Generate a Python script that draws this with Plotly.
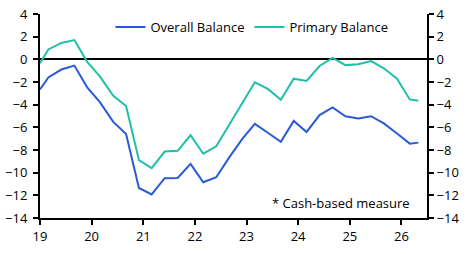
import plotly.graph_objects as go

dates = ["2019-01", "2019-03", "2019-06", "2019-09", "2019-12",
         "2020-03", "2020-06", "2020-09", "2020-12",
         "2021-03", "2021-06", "2021-09", "2021-12",
         "2022-03", "2022-06", "2022-09", "2022-12",
         "2023-03", "2023-06", "2023-09", "2023-12",
         "2024-03", "2024-06", "2024-09", "2024-12",
         "2025-03", "2025-06", "2025-09", "2025-12",
         "2026-03", "2026-05"]

overall = [-2.65, -1.6, -0.9, -0.55, -2.47,
           -3.8, -5.5, -6.6, -11.35,
           -11.92, -10.49, -10.47, -9.23,
           -10.85, -10.4, -8.65, -7.05,
           -5.69, -6.48, -7.28, -5.43,
           -6.41, -4.92, -4.24, -5.02,
           -5.22, -5.02, -5.67, -6.55,
           -7.44, -7.35]

primary = [-0.35, 0.87, 1.45, 1.7, -0.22,
           -1.53, -3.2, -4.12, -8.9,
           -9.6, -8.14, -8.07, -6.7,
           -8.33, -7.67, -5.75, -3.8,
           -2.03, -2.61, -3.57, -1.71,
           -1.9, -0.59, 0.12, -0.51,
           -0.43, -0.16, -0.81, -1.71,
           -3.54, -3.65]

y_ticks = [4, 2, 0, -2, -4, -6, -8, -10, -12, -14]
x_range = ["2019-01-01", "2026-07-01"]

FONT = "Open Sans"
fig = go.Figure()
fig.add_trace(go.Scatter(x=dates, y=overall, mode="lines", name="Overall Balance",
                         line=dict(color="#2a5bd7", width=2)))
fig.add_trace(go.Scatter(x=dates, y=primary, mode="lines", name="Primary Balance",
                         line=dict(color="#1fbfa8", width=2)))
fig.add_trace(go.Scatter(x=dates, y=primary, mode="lines", yaxis="y2",
                         showlegend=False, hoverinfo="skip",
                         line=dict(color="rgba(0,0,0,0)", width=0)))

axis_common = dict(range=[-14, 4], tickvals=y_ticks, showgrid=False,
                   showline=True, linecolor="black", linewidth=2,
                   ticks="outside", ticklen=5, tickwidth=1.5, tickcolor="black",
                   automargin=False,
                   tickfont=dict(family=FONT, size=13, color="black"))

fig.update_layout(
    width=471, height=254,
    margin=dict(l=39.5, r=44, t=11.5, b=36),
    plot_bgcolor="white", paper_bgcolor="white",
    font=dict(family=FONT, size=13, color="black"),
    xaxis=dict(type="date", range=x_range, tickformat="%y", dtick="M12",
               tick0="2019-01-01", showgrid=False, showline=True,
               linecolor="black", linewidth=2, ticks="outside", ticklen=5,
               tickwidth=1.5, tickcolor="black", automargin=False,
               tickfont=dict(family=FONT, size=13, color="black")),
    yaxis=dict(zeroline=True, zerolinecolor="black", zerolinewidth=2,
               ticklabelstandoff=3, **axis_common),
    yaxis2=dict(overlaying="y", side="right", zeroline=False, **axis_common),
    legend=dict(orientation="h", x=0.182, y=1.01, xanchor="left", yanchor="top",
                bgcolor="rgba(0,0,0,0)", font=dict(family=FONT, size=13),
                itemwidth=30, tracegroupgap=0),
    showlegend=True,
    annotations=[dict(text="* Cash-based measure", xref="paper", yref="paper",
                      x=0.962, y=0.075, xanchor="right", yanchor="middle",
                      showarrow=False, font=dict(family=FONT, size=13))],
)

fig.write_html("out.html")
